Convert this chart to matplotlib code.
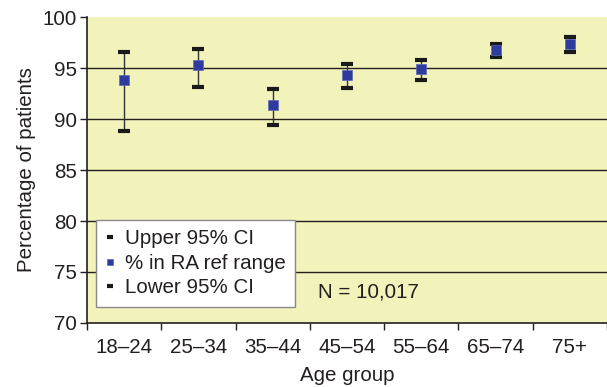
import matplotlib.pyplot as plt
import numpy as np

plt.rcParams['font.family'] = ['Liberation Sans', 'DejaVu Sans']

# age groups and the percentage of patients in the RA reference range
age_groups = ['18–24', '25–34', '35–44', '45–54', '55–64', '65–74', '75+']
pct_in_range = [93.8, 95.3, 91.4, 94.3, 94.9, 96.8, 97.4]
upper_ci = [96.6, 96.9, 92.9, 95.4, 95.8, 97.4, 98.0]
lower_ci = [88.8, 93.1, 89.4, 93.0, 93.8, 96.1, 96.6]

text_col = '#231f20'
bg_col = '#f2f2bb'
blue = '#2e3b9c'
fs = 14.8

fig = plt.figure(figsize=(6.07, 3.87), dpi=100)
ax = fig.add_axes([0.1433, 0.1654, 0.8567, 0.7906])
ax.set_facecolor(bg_col)

x = np.arange(len(age_groups))

# grid lines behind the data
for y in [75, 80, 85, 90, 95]:
    ax.axhline(y, color=text_col, lw=1.0, zorder=1)

# high-low lines between the confidence limits
ax.vlines(x, lower_ci, upper_ci, color='#333333', lw=1.0, zorder=2)

ax.plot(x, upper_ci, ls='none', marker='_', ms=8, mew=3, color='#1a1a1a',
        label='Upper 95% CI', zorder=3)
ax.plot(x, pct_in_range, ls='none', marker='s', ms=7.5, color=blue, mec='#5a6ab8', mew=0.5,
        label='% in RA ref range', zorder=4)
ax.plot(x, lower_ci, ls='none', marker='_', ms=8, mew=3, color='#1a1a1a',
        label='Lower 95% CI', zorder=3)

ax.set_xlim(-0.5, len(age_groups) - 0.5)
ax.set_ylim(70, 100)
ax.set_yticks(range(70, 101, 5))
ax.set_xticks(x)
ax.set_xticklabels(age_groups)
ax.set_xticks(np.arange(-0.5, len(age_groups)), minor=True)
ax.tick_params(axis='x', which='major', length=0, pad=11, labelsize=fs, labelcolor=text_col)
ax.tick_params(axis='x', which='minor', length=5, width=1, color=text_col, direction='out')
ax.tick_params(axis='y', length=5, width=1, color=text_col, labelsize=fs,
               labelcolor=text_col, pad=2)

for side in ['top', 'right']:
    ax.spines[side].set_visible(False)
for side in ['left', 'bottom']:
    ax.spines[side].set_color(text_col)
    ax.spines[side].set_linewidth(1.2)

ax.set_xlabel('Age group', fontsize=fs, color=text_col, labelpad=6)
ax.set_ylabel('Percentage of patients', fontsize=fs, color=text_col, labelpad=5)

leg = ax.legend(loc='lower left', bbox_to_anchor=(0.01, 0.04), fontsize=fs,
                frameon=True, fancybox=False, framealpha=1, edgecolor='#888888',
                handlelength=0.45, handletextpad=0.5, borderpad=0.45,
                labelspacing=0.27, markerscale=0.55, borderaxespad=0.2)
leg.get_frame().set_linewidth(1.0)
for t in leg.get_texts():
    t.set_color(text_col)

ax.text(0.444, 73.0, 'N = 10,017', fontsize=fs, color=text_col,
        transform=ax.get_yaxis_transform(), va='center', ha='left')

fig.savefig('out.png', dpi=100)
